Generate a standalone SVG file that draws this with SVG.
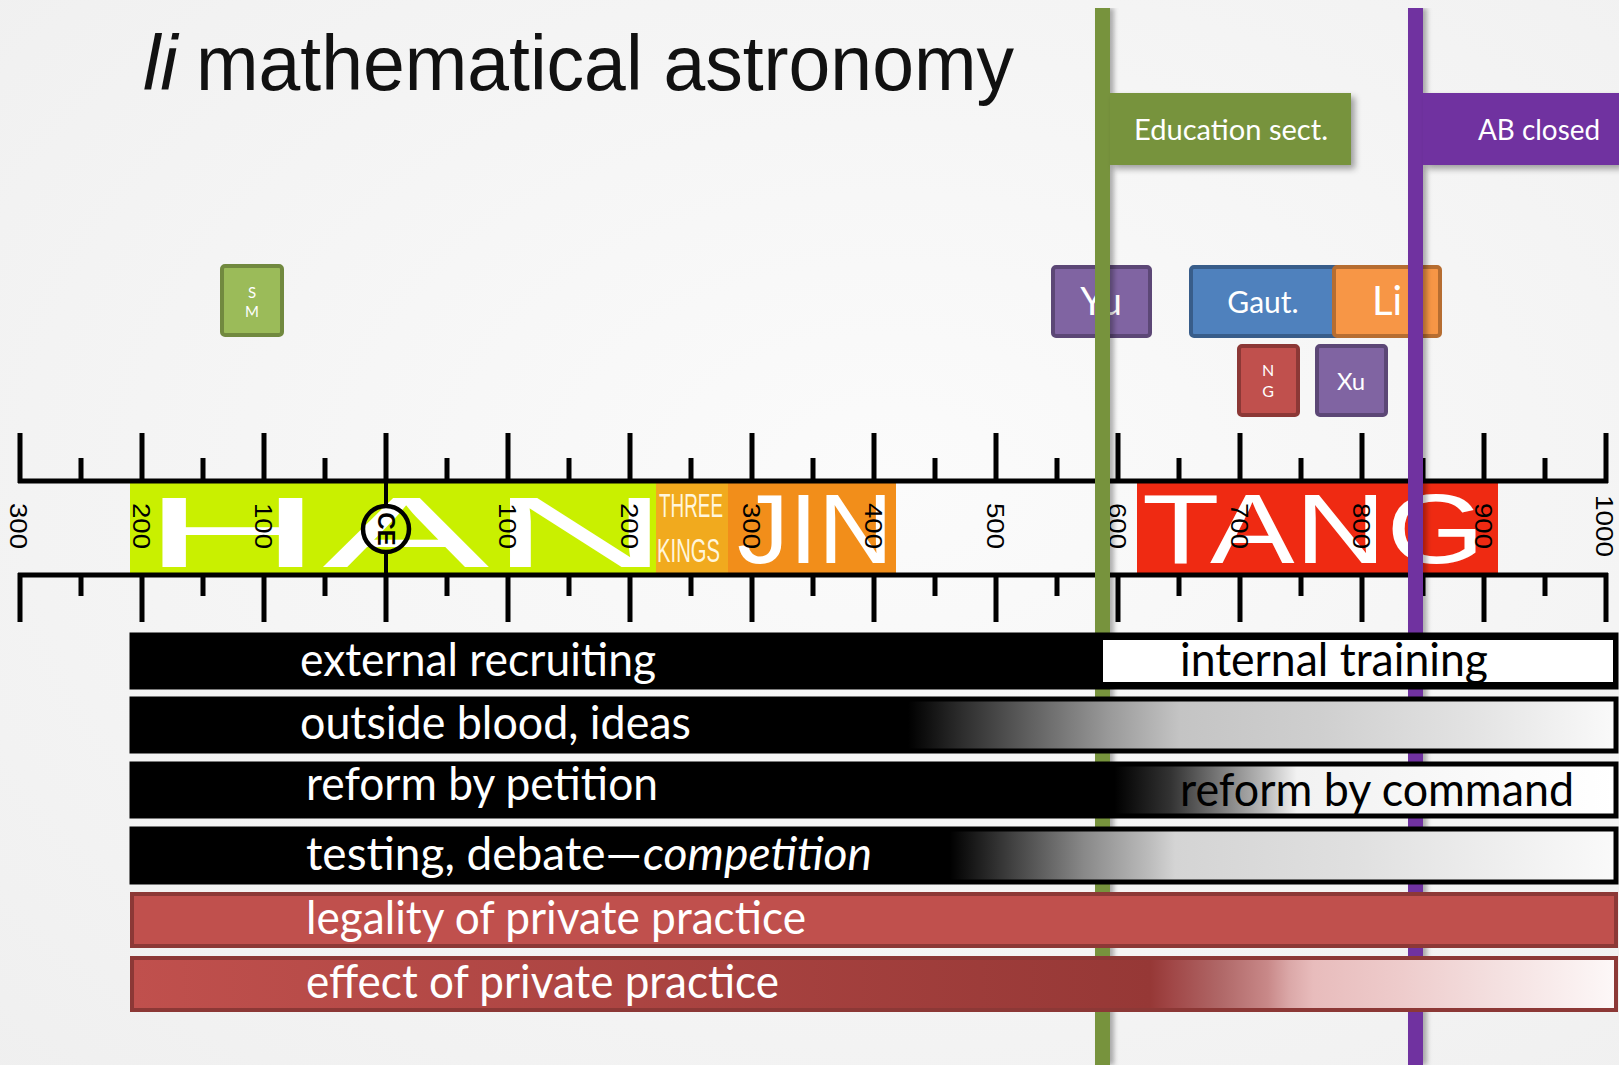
<svg xmlns="http://www.w3.org/2000/svg" width="1619" height="1065" viewBox="0 0 1619 1065">
<defs>
<style>
.title{font-family:"Liberation Sans",Arial,sans-serif;font-size:78px;fill:#111}
.yr{font-family:"Liberation Sans",Arial,sans-serif;font-size:24px;fill:#000;text-anchor:middle;dominant-baseline:central}
.big{font-family:"Liberation Sans",Arial,sans-serif;fill:#fff}
.cal{font-family:Lato,"Open Sans",sans-serif}
.bw{font-family:Lato,"Open Sans",sans-serif;font-size:46px;fill:#fff}
.bk{font-family:Lato,"Open Sans",sans-serif;font-size:46px;fill:#000}
.box{stroke-width:4}
.bt{font-family:Lato,"Open Sans",sans-serif;fill:#fff;text-anchor:middle}
.ax{stroke:#000;stroke-width:5;fill:none}
.bar{stroke:#000;stroke-width:5}
.rbar{stroke:#8C3836;stroke-width:4}
</style>
<radialGradient id="bg" cx="0.55" cy="0.45" r="0.8">
<stop offset="0" stop-color="#fbfbfb"/>
<stop offset="1" stop-color="#efefef"/>
</radialGradient>
<filter id="sh" x="-10%" y="-10%" width="130%" height="140%">
<feDropShadow dx="4" dy="4" stdDeviation="3" flood-color="#000" flood-opacity="0.35"/>
</filter>
<filter id="lsh" x="-50%" y="0%" width="250%" height="100%">
<feDropShadow dx="4" dy="0" stdDeviation="2.5" flood-color="#000" flood-opacity="0.3"/>
</filter>
<linearGradient id="g2" gradientUnits="userSpaceOnUse" x1="132" y1="0" x2="1616" y2="0">
<stop offset="0" stop-color="#000"/>
<stop offset="0.523" stop-color="#000"/>
<stop offset="0.56" stop-color="#2e2e2e"/>
<stop offset="0.605" stop-color="#606060"/>
<stop offset="0.659" stop-color="#9a9a9a"/>
<stop offset="0.706" stop-color="#c4c4c4"/>
<stop offset="0.80" stop-color="#cfcfcf"/>
<stop offset="0.90" stop-color="#e2e2e2"/>
<stop offset="1" stop-color="#fafafa"/>
</linearGradient>
<linearGradient id="g3" gradientUnits="userSpaceOnUse" x1="132" y1="0" x2="1616" y2="0">
<stop offset="0" stop-color="#000"/>
<stop offset="0.662" stop-color="#000"/>
<stop offset="0.70" stop-color="#333"/>
<stop offset="0.733" stop-color="#7a7a7a"/>
<stop offset="0.765" stop-color="#bdbdbd"/>
<stop offset="0.785" stop-color="#f2f2f2"/>
<stop offset="1" stop-color="#fff"/>
</linearGradient>
<linearGradient id="g4" gradientUnits="userSpaceOnUse" x1="132" y1="0" x2="1616" y2="0">
<stop offset="0" stop-color="#000"/>
<stop offset="0.551" stop-color="#000"/>
<stop offset="0.595" stop-color="#444"/>
<stop offset="0.641" stop-color="#888"/>
<stop offset="0.685" stop-color="#bbb"/>
<stop offset="0.703" stop-color="#d4d4d4"/>
<stop offset="0.826" stop-color="#e0e0e0"/>
<stop offset="1" stop-color="#fafafa"/>
</linearGradient>
<linearGradient id="g6" gradientUnits="userSpaceOnUse" x1="132" y1="0" x2="1616" y2="0">
<stop offset="0" stop-color="#C0504D"/>
<stop offset="0.686" stop-color="#963836"/>
<stop offset="0.70" stop-color="#a04646"/>
<stop offset="0.734" stop-color="#b06868"/>
<stop offset="0.765" stop-color="#c88888"/>
<stop offset="0.78" stop-color="#dba8a8"/>
<stop offset="0.796" stop-color="#e8bcbc"/>
<stop offset="0.857" stop-color="#eecccc"/>
<stop offset="0.92" stop-color="#f4e0e0"/>
<stop offset="1" stop-color="#fdf8f8"/>
</linearGradient>
</defs>

<rect x="0" y="0" width="1619" height="1065" fill="url(#bg)"/>

<g id="title">
<text class="title" x="143" y="90" font-style="italic">li</text>
<text class="title" x="196" y="90" textLength="818" lengthAdjust="spacingAndGlyphs">mathematical astronomy</text>
</g>

<g id="box-sm">
<rect class="box" x="222" y="266" width="60" height="69" rx="3" fill="#9BBB59" stroke="#71893F"/>
<text class="bt" x="252" y="298" font-size="15">S</text>
<text class="bt" x="252" y="317" font-size="15">M</text>
</g>
<g id="box-yu">
<rect class="box" x="1053" y="267" width="97" height="69" rx="3" fill="#8064A2" stroke="#5C4776"/>
<text class="bt" x="1101" y="315" font-size="38">Yu</text>
</g>
<g id="box-gaut">
<rect class="box" x="1191" y="267" width="150" height="69" rx="3" fill="#4F81BD" stroke="#385D8A"/>
<text class="bt" x="1263" y="313" font-size="30">Gaut.</text>
</g>
<g id="box-li">
<rect class="box" x="1334" y="267" width="106" height="69" rx="3" fill="#F79646" stroke="#B66D31"/>
<text class="bt" x="1387" y="315" font-size="40">Li</text>
</g>
<g id="box-ng">
<rect class="box" x="1239" y="346" width="59" height="69" rx="3" fill="#C0504D" stroke="#8C3836"/>
<text class="bt" x="1268" y="376" font-size="16">N</text>
<text class="bt" x="1268" y="397" font-size="16">G</text>
</g>
<g id="box-xu">
<rect class="box" x="1317" y="346" width="69" height="69" rx="3" fill="#8064A2" stroke="#5C4776"/>
<text class="bt" x="1351" y="390" font-size="24">Xu</text>
</g>

<g id="timeline">
<rect x="130" y="483" width="526" height="90" fill="#C9F000"/>
<rect x="656" y="483" width="72" height="90" fill="#F1AA1E"/>
<rect x="728" y="483" width="168" height="90" fill="#F28E1A"/>
<rect x="1137" y="483" width="361" height="90" fill="#EF2A12"/>
<text class="big" x="142" y="567" font-size="100" textLength="528" lengthAdjust="spacingAndGlyphs">HAN</text>
<text x="659" y="517" font-family="'Liberation Sans',Arial,sans-serif" font-size="34" fill="#fff6dc" textLength="64" lengthAdjust="spacingAndGlyphs">THREE</text>
<text x="657" y="562" font-family="'Liberation Sans',Arial,sans-serif" font-size="34" fill="#fff6dc" textLength="63" lengthAdjust="spacingAndGlyphs">KINGS</text>
<text class="big" x="737" y="563" font-size="99" textLength="156" lengthAdjust="spacingAndGlyphs">JIN</text>
<text class="big" x="1142" y="563" font-size="99" textLength="343" lengthAdjust="spacingAndGlyphs">TANG</text>
<path class="ax" d="M18 481H1608M20 433V483M142 433V483M264 433V483M386 433V483M508 433V483M630 433V483M752 433V483M874 433V483M996 433V483M1118 433V483M1240 433V483M1362 433V483M1484 433V483M1606 433V483M81 458V483M203 458V483M325 458V483M447 458V483M569 458V483M691 458V483M813 458V483M935 458V483M1057 458V483M1179 458V483M1301 458V483M1423 458V483M1545 458V483"/>
<path class="ax" d="M18 575H1608M20 573V622M142 573V622M264 573V622M386 573V622M508 573V622M630 573V622M752 573V622M874 573V622M996 573V622M1118 573V622M1240 573V622M1362 573V622M1484 573V622M1606 573V622M81 573V596M203 573V596M325 573V596M447 573V596M569 573V596M691 573V596M813 573V596M935 573V596M1057 573V596M1179 573V596M1301 573V596M1423 573V596M1545 573V596"/>
<path d="M386 481V506M386 552V575" stroke="#000" stroke-width="4"/>
<circle cx="386" cy="529" r="23" fill="none" stroke="#000" stroke-width="4.5"/>
<text class="yr" transform="translate(386,529) rotate(90)" x="0" y="0" font-size="18" font-weight="bold">CE</text>
<text class="yr" transform="translate(18,526) rotate(90)" textLength="46" lengthAdjust="spacingAndGlyphs">300</text>
<text class="yr" transform="translate(141,526) rotate(90)" textLength="46" lengthAdjust="spacingAndGlyphs">200</text>
<text class="yr" transform="translate(263,526) rotate(90)" textLength="46" lengthAdjust="spacingAndGlyphs">100</text>
<text class="yr" transform="translate(507,526) rotate(90)" textLength="46" lengthAdjust="spacingAndGlyphs">100</text>
<text class="yr" transform="translate(629,526) rotate(90)" textLength="46" lengthAdjust="spacingAndGlyphs">200</text>
<text class="yr" transform="translate(751,526) rotate(90)" textLength="46" lengthAdjust="spacingAndGlyphs">300</text>
<text class="yr" transform="translate(873,526) rotate(90)" textLength="46" lengthAdjust="spacingAndGlyphs">400</text>
<text class="yr" transform="translate(995,526) rotate(90)" textLength="46" lengthAdjust="spacingAndGlyphs">500</text>
<text class="yr" transform="translate(1117,526) rotate(90)" textLength="46" lengthAdjust="spacingAndGlyphs">600</text>
<text class="yr" transform="translate(1239,526) rotate(90)" textLength="46" lengthAdjust="spacingAndGlyphs">700</text>
<text class="yr" transform="translate(1361,526) rotate(90)" textLength="46" lengthAdjust="spacingAndGlyphs">800</text>
<text class="yr" transform="translate(1483,526) rotate(90)" textLength="46" lengthAdjust="spacingAndGlyphs">900</text>
<text class="yr" transform="translate(1604,526) rotate(90)" textLength="62" lengthAdjust="spacingAndGlyphs">1000</text>
</g>

<g id="connectors">
<rect x="1095" y="8" width="15" height="1057" fill="#77933C" filter="url(#lsh)"/>
<rect x="1408" y="8" width="15" height="1057" fill="#7030A0" filter="url(#lsh)"/>
</g>

<g id="flag-education">
<rect x="1110" y="93" width="241" height="72" fill="#77933C" filter="url(#sh)"/>
<text class="cal" x="1134" y="140" font-size="29" fill="#fff" textLength="194" lengthAdjust="spacingAndGlyphs">Education sect.</text>
</g>
<g id="flag-ab">
<rect x="1423" y="93" width="196" height="72" fill="#7030A0" filter="url(#sh)"/>
<text class="cal" x="1478" y="140" font-size="29" fill="#fff" textLength="122" lengthAdjust="spacingAndGlyphs">AB closed</text>
</g>

<g id="bar-recruiting">
<rect class="bar" x="132" y="635" width="1484" height="52" fill="#000"/>
<rect x="1103" y="640" width="510" height="42" fill="#fff"/>
<text class="bw" x="300" y="676" textLength="356" lengthAdjust="spacingAndGlyphs">external recruiting</text>
<text class="bk" x="1180" y="676" textLength="308" lengthAdjust="spacingAndGlyphs">internal training</text>
</g>
<g id="bar-blood">
<rect class="bar" x="132" y="699" width="1484" height="52" fill="url(#g2)"/>
<text class="bw" x="300" y="739" textLength="391" lengthAdjust="spacingAndGlyphs">outside blood, ideas</text>
</g>
<g id="bar-reform">
<rect class="bar" x="132" y="764" width="1484" height="52" fill="url(#g3)"/>
<text class="bw" x="306" y="800" textLength="352" lengthAdjust="spacingAndGlyphs">reform by petition</text>
<text class="bk" x="1180" y="806" textLength="394" lengthAdjust="spacingAndGlyphs">reform by command</text>
</g>
<g id="bar-testing">
<rect class="bar" x="132" y="829" width="1484" height="53" fill="url(#g4)"/>
<text class="bw" x="306" y="870" textLength="336" lengthAdjust="spacingAndGlyphs">testing, debate—</text>
<text class="bw" x="643" y="870" font-style="italic" textLength="229" lengthAdjust="spacingAndGlyphs">competition</text>
</g>
<g id="bar-legality">
<rect class="rbar" x="132" y="894" width="1484" height="52" fill="#C0504D"/>
<text class="bw" x="306" y="934" textLength="500" lengthAdjust="spacingAndGlyphs">legality of private practice</text>
</g>
<g id="bar-effect">
<rect class="rbar" x="132" y="958" width="1484" height="52" fill="url(#g6)"/>
<text class="bw" x="306" y="998" textLength="473" lengthAdjust="spacingAndGlyphs">effect of private practice</text>
</g>
</svg>
